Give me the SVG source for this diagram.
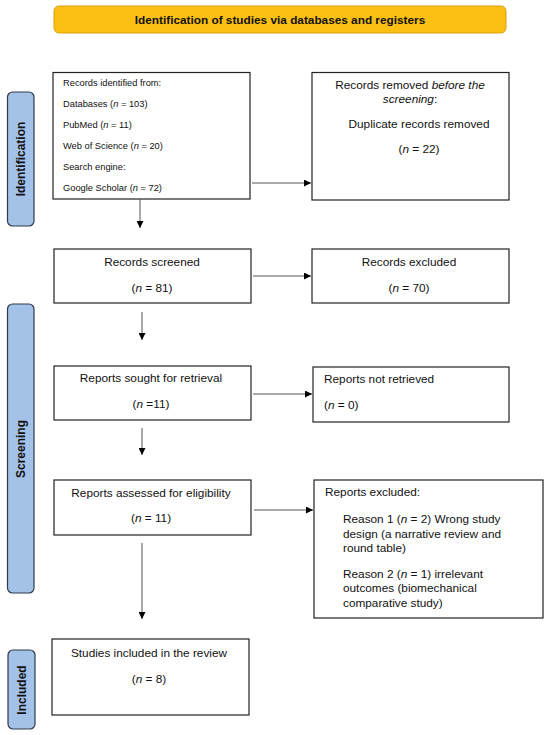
<svg xmlns="http://www.w3.org/2000/svg" width="550" height="735" viewBox="0 0 550 735">
<style>
text{font-family:"Liberation Sans",Arial,sans-serif;fill:#111}
.box{fill:#fff;stroke:#222;stroke-width:1.2}
.lab{fill:#a4c2e8;stroke:#2f3a4a;stroke-width:1.2}
.lt{font-size:12px;font-weight:bold;text-anchor:middle}
.m{font-size:11.8px}
.c{text-anchor:middle}
.s{font-size:9.3px}
.con line{stroke:#555;stroke-width:1;marker-end:url(#ah)}
</style>
<defs>
<marker id="ah" viewBox="0 0 10 10" refX="10" refY="5" markerWidth="7" markerHeight="7" markerUnits="userSpaceOnUse" orient="auto">
<path d="M0,0 L10,5 L0,10 z" fill="#000"/>
</marker>
</defs>
<rect width="550" height="735" fill="#fff"/>
<g id="banner">
<rect x="54" y="6" width="452" height="27" rx="5" fill="#fcbf14" stroke="#d9a010" stroke-width="1"/>
<text x="280" y="24" class="c" style="font-size:11.8px;font-weight:bold">Identification of studies via databases and registers</text>
</g>
<g id="label-identification">
<rect class="lab" x="7.5" y="92" width="26.5" height="134" rx="5"/>
<text class="lt" transform="translate(25,159) rotate(-90)">Identification</text>
</g>
<g id="label-screening">
<rect class="lab" x="7.5" y="304" width="26.5" height="289" rx="5"/>
<text class="lt" transform="translate(25,449) rotate(-90)">Screening</text>
</g>
<g id="label-included">
<rect class="lab" x="8" y="650" width="27" height="79" rx="5"/>
<text class="lt" transform="translate(25.5,690) rotate(-90)">Included</text>
</g>
<g id="records-identified">
<rect class="box" x="53" y="72.5" width="197" height="126.5"/>
<text class="s" x="63" y="86">Records identified from:</text>
<text class="s" x="63" y="107">Databases (<tspan font-style="italic">n</tspan> = 103)</text>
<text class="s" x="63" y="128">PubMed (<tspan font-style="italic">n</tspan> = 11)</text>
<text class="s" x="63" y="149">Web of Science (<tspan font-style="italic">n</tspan> = 20)</text>
<text class="s" x="63" y="170">Search engine:</text>
<text class="s" x="63" y="191">Google Scholar (<tspan font-style="italic">n</tspan> = 72)</text>
</g>
<g id="records-removed">
<rect class="box" x="312" y="72.5" width="197" height="127.5"/>
<text class="m c" x="410" y="89">Records removed <tspan font-style="italic">before the</tspan></text>
<text class="m c" x="410" y="103"><tspan font-style="italic">screening</tspan>:</text>
<text class="m c" x="419" y="128">Duplicate records removed</text>
<text class="m c" x="419" y="153">(<tspan font-style="italic">n</tspan> = 22)</text>
</g>
<g id="records-screened">
<rect class="box" x="54" y="249" width="197" height="54"/>
<text class="m c" x="152" y="266">Records screened</text>
<text class="m c" x="152" y="292">(<tspan font-style="italic">n</tspan> = 81)</text>
</g>
<g id="records-excluded">
<rect class="box" x="312" y="249" width="197" height="54"/>
<text class="m c" x="409" y="266">Records excluded</text>
<text class="m c" x="409" y="292">(<tspan font-style="italic">n</tspan> = 70)</text>
</g>
<g id="reports-sought">
<rect class="box" x="54" y="366" width="197" height="54"/>
<text class="m c" x="151" y="382">Reports sought for retrieval</text>
<text class="m c" x="151" y="408">(<tspan font-style="italic">n</tspan> =11)</text>
</g>
<g id="reports-not-retrieved">
<rect class="box" x="313" y="367" width="196" height="55"/>
<text class="m" x="324" y="383">Reports not retrieved</text>
<text class="m" x="324" y="409">(<tspan font-style="italic">n</tspan> = 0)</text>
</g>
<g id="reports-assessed">
<rect class="box" x="54" y="480" width="197" height="55"/>
<text class="m c" x="151" y="497">Reports assessed for eligibility</text>
<text class="m c" x="151" y="522">(<tspan font-style="italic">n</tspan> = 11)</text>
</g>
<g id="reports-excluded">
<rect class="box" x="314" y="480" width="229" height="138"/>
<text class="m" x="325" y="496">Reports excluded:</text>
<text class="m" x="343" y="523">Reason 1 (<tspan font-style="italic">n</tspan> = 2) Wrong study</text>
<text class="m" x="343" y="537.5">design (a narrative review and</text>
<text class="m" x="343" y="552">round table)</text>
<text class="m" x="343" y="578">Reason 2 (<tspan font-style="italic">n</tspan> = 1) irrelevant</text>
<text class="m" x="343" y="592">outcomes (biomechanical</text>
<text class="m" x="343" y="606.5">comparative study)</text>
</g>
<g id="studies-included">
<rect class="box" x="52" y="639" width="197" height="76"/>
<text class="m c" x="149" y="657">Studies included in the review</text>
<text class="m c" x="149" y="683">(<tspan font-style="italic">n</tspan> = 8)</text>
</g>
<g class="con" id="connectors">
<line x1="252" y1="183" x2="311" y2="183"/>
<line x1="140" y1="199" x2="140" y2="228"/>
<line x1="253" y1="276" x2="311" y2="276"/>
<line x1="142" y1="312" x2="142" y2="340"/>
<line x1="253" y1="394" x2="312" y2="394"/>
<line x1="142" y1="428" x2="142" y2="455"/>
<line x1="254" y1="510" x2="313" y2="510"/>
<line x1="142" y1="543" x2="142" y2="619"/>
</g>
</svg>
